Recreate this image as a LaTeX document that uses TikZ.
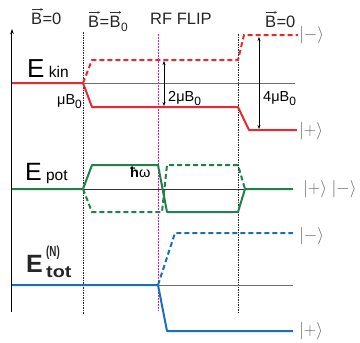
\documentclass[tikz,border=0pt]{standalone}
\usepackage{amsmath}
\usepackage{fontspec}
\setmainfont{Liberation Sans}
\usetikzlibrary{arrows.meta}
\definecolor{cred}{RGB}{232,42,48}
\definecolor{cgreen}{RGB}{32,130,72}
\definecolor{cblue}{RGB}{22,112,190}
\definecolor{cpink}{RGB}{232,20,200}
\definecolor{cgray}{RGB}{110,110,110}
\definecolor{cket}{RGB}{105,105,105}
\begin{document}
\begin{tikzpicture}[x=1pt,y=-1pt,
  zeroline/.style={draw=cgray,line width=0.8pt},
  level/.style={line width=2pt,line join=round},
  dlevel/.style={line width=2pt,dash pattern=on 5pt off 3pt},
  marker/.style={draw=black!85,line width=0.6pt,dash pattern=on 1.5pt off 1pt},
  rfline/.style={draw=cpink,line width=0.7pt,dash pattern=on 2pt off 1pt},
  dim/.style={draw=black,line width=0.6pt,{Stealth[length=4pt,width=3pt]}-{Stealth[length=4pt,width=3pt]}},
  vecarrow/.style={draw=black!80,line width=0.5pt,-{Stealth[length=2.5pt,width=2.6pt]}},
  lab/.style={inner sep=0pt,anchor=base west,font=\fontsize{16.5}{16.5}\selectfont,text=black!85},
  sublab/.style={inner sep=0pt,anchor=base west,font=\fontsize{12}{12}\selectfont,text=black!85},
  ket/.style={inner sep=0pt,text=cket,font=\fontsize{16}{16}\selectfont},
  small/.style={inner sep=0pt,font=\fontsize{14.5}{14.5}\selectfont},
  boldlab/.style={inner sep=0pt,anchor=base west,text=black!85}]
\useasboundingbox (0,0) rectangle (360,343);
% axis
\coordinate (ax0) at (12,312);
\coordinate (ax1) at (12,29);
\draw[line width=1pt,-{Stealth[length=5pt,width=3.5pt]}] (ax0) -- (ax1);
% vertical markers
\coordinate (m1t) at (83,32); \coordinate (m1b) at (83,314);
\coordinate (m2t) at (158,34); \coordinate (m2b) at (158,311);
\coordinate (m3t) at (238,34); \coordinate (m3b) at (238,312);
\draw[marker] (m1t) -- (m1b);
\draw[rfline] (m2t) -- (m2b);
\draw[marker] (m3t) -- (m3b);
% top labels
\node[lab] (b1) at (31,24) {B};
\node[lab] (b1r) at (b1.base east) {=0};
\draw[vecarrow] ([yshift=3pt,xshift=1pt]b1.north west) -- ([yshift=3pt,xshift=0.5pt]b1.north east);
\node[lab] (b2) at (88,27) {B};
\node[lab] (b2r) at (b2.base east) {=};
\node[lab] (b3) at (b2r.base east) {B};
\node[sublab] (b3s) at ([yshift=-4pt]b3.base east) {0};
\draw[vecarrow] ([yshift=3pt,xshift=1pt]b2.north west) -- ([yshift=3pt,xshift=0.5pt]b2.north east);
\draw[vecarrow] ([yshift=3pt,xshift=1pt]b3.north west) -- ([yshift=3pt,xshift=0.5pt]b3.north east);
\node[lab] (t3) at (150,24) {RF FLIP};
\node[lab] (b4) at (265,27) {B};
\node[lab] (b4r) at (b4.base east) {=0};
\draw[vecarrow] ([yshift=3pt,xshift=1pt]b4.north west) -- ([yshift=3pt,xshift=0.5pt]b4.north east);
% ---- E kin
\coordinate (k0) at (12,83); \coordinate (k0e) at (295,83);
\draw[zeroline] (k0) -- (k0e);
\coordinate (ka) at (83,83);
\draw[level,cred] (k0) -- (ka) -- (92,107) -- (238,107) -- (249,130) -- (297,130);
\draw[dlevel,cred] (ka) -- (92,60) -- (238,60) -- (244,35) -- (298,35);
\node[inner sep=0pt,anchor=base west] (ekin) at (27,77) {\fontsize{26}{26}\selectfont E\,\fontsize{15.5}{15.5}\selectfont kin};
\node[small,anchor=base west] (mub) at (57,104) {μB\raisebox{-4pt}{\fontsize{12}{12}\selectfont 0}};
\coordinate (d2a) at (164,61); \coordinate (d2b) at (164,106);
\draw[dim] (d2a) -- (d2b);
\node[small,anchor=base west] (twomu) at (168,101) {2μB\raisebox{-4pt}{\fontsize{12}{12}\selectfont 0}};
\coordinate (d4a) at (259,37); \coordinate (d4b) at (259,129);
\draw[dim] (d4a) -- (d4b);
\node[small,anchor=base west] (fourmu) at (263,101) {4μB\raisebox{-4pt}{\fontsize{12}{12}\selectfont 0}};
\node[ket,anchor=west] (kminus1) at (299,35) {$|{-}\rangle$};
\node[ket,anchor=west] (kplus1) at (299,131) {$|{+}\rangle$};
% ---- E pot
\coordinate (p0) at (12,189); \coordinate (p0e) at (293,189);
\draw[zeroline,draw=black!80] (p0) -- (p0e);
\coordinate (pa) at (83,189);
\draw[level,cgreen] (p0) -- (pa) -- (92,165) -- (158,165) -- (167,212) -- (238,212) -- (245,189) -- (p0e);
\draw[dlevel,cgreen] (pa) -- (92,212) -- (162,212) -- (167,165) -- (238,165) -- (245,189);
\node[inner sep=0pt,anchor=base west] (epot) at (25,180) {\fontsize{25}{25}\selectfont E\,\fontsize{15.5}{15.5}\selectfont pot};
\node[small,anchor=base west] (hw) at (130,177) {\textbf{ħ}ω};
\node[ket,anchor=west] (kpm) at (303,189) {$|{+}\rangle$ $|{-}\rangle$};
% ---- E tot
\coordinate (e0) at (12,285); \coordinate (e0e) at (293,285);
\draw[zeroline] (e0) -- (e0e);
\coordinate (ea) at (158,285);
\draw[level,cblue] (e0) -- (ea) -- (167,331) -- (293,331);
\draw[dlevel,cblue] (ea) -- (175,233) -- (293,233);
\node[boldlab] (etot) at (26,272) {\fontsize{25}{25}\selectfont\bfseries E};
\node[boldlab] (etotN) at (46,256) {\fontsize{14.5}{14.5}\selectfont\bfseries\scalebox{0.68}[1]{(N)}};
\node[boldlab] (etott) at (46,277) {\fontsize{16.5}{16.5}\selectfont\bfseries\scalebox{1.2}[1]{tot}};
\node[ket,anchor=west] (kminus3) at (299,236) {$|{-}\rangle$};
\node[ket,anchor=west] (kplus3) at (299,331) {$|{+}\rangle$};
\end{tikzpicture}
\end{document}
